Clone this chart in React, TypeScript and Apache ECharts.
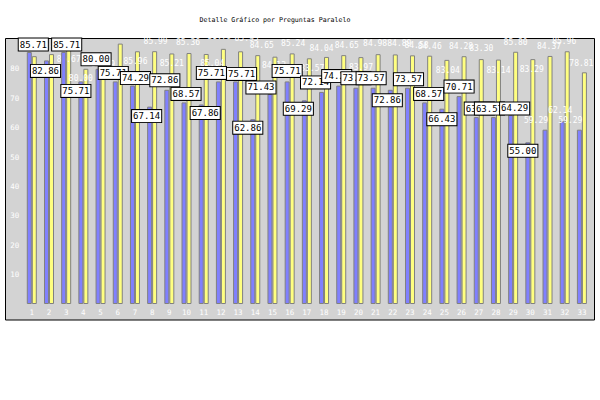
import React, { useEffect, useRef } from "react";
import * as echarts from "echarts";

const categories = ["1","2","3","4","5","6","7","8","9","10","11","12","13","14","15","16","17","18","19","20","21","22","23","24","25","26","27","28","29","30","31","32","33"];

const blueValues = [85.71,82.86,85.71,75.71,80.00,75.71,74.29,67.14,72.86,68.57,67.86,75.71,75.71,62.86,71.43,75.71,69.29,72.14,74.29,73.57,73.57,72.86,73.57,68.57,66.43,70.71,63.57,63.57,64.29,55.00,59.29,62.14,59.29];

const yellowValues = [84.29,85.00,86.67,80.00,84.29,88.57,85.96,85.99,85.21,85.36,85.04,86.79,85.95,84.65,84.13,85.24,83.57,84.04,84.65,83.97,84.98,84.89,84.58,84.46,83.04,84.28,83.30,83.14,85.80,83.29,84.37,85.96,78.81];

const yTickMax = 90;
const yTickStep = 10;

// label placement styling (centre of label relative to bar centre / bar top), pixels
const blueLabelShift = [[4,-8],[-1,10],[3,-8],[-5,9],[-2,-10],[-2,-9],[3,-8],[-3,9],[-2,-10],[2,-9],[4,8],[-7,-9],[6,-8],[-5,8],[-9,-7],[0,-11],[-6,8],[-6,-10],[-2,-10],[0,-10],[-2,-10],[-3,10],[1,-9],[4,-9],[0,10],[0,-10],[3,-9],[-4,-9],[4,-7],[-5,8],[-9,-9],[-2,-10],[-9,-9]];
const yellowLabelShift = [[0,-10],[0,-10],[0,10],[-5,9],[0,8],[0,-10],[-2,10],[1,-10],[0,10],[-1,-11],[6,9],[-4,-13],[6,-13],[4,-10],[-1,8],[1,-10],[3,10],[-5,-9],[3,-10],[0,10],[-3,-11],[4,-11],[4,-10],[0,-10],[1,10],[-3,-10],[0,-11],[0,10],[0,-10],[-1,10],[-1,-10],[-3,-10],[-3,-9]];
const plainBlueLabelFrom = 30;

const MONO = "'DejaVu Sans Mono', 'Liberation Mono', monospace";

export default function App() {
  const ref = useRef<HTMLDivElement>(null);
  useEffect(() => {
    if (!ref.current) return;
    const chart = echarts.init(ref.current, null, { renderer: "svg" });
    const blueData = blueValues.map((v, i) => {
      const [dx, dy] = blueLabelShift[i];
      const plain = i >= plainBlueLabelFrom;
      return {
        value: v,
        label: plain
          ? { offset: [dx, dy + 4.5], backgroundColor: "transparent", borderWidth: 0, color: "#ffffff", fontSize: 8, padding: 0 }
          : { offset: [dx, dy + 6.5] },
      };
    });
    const yellowData = yellowValues.map((v, i) => {
      const [dx, dy] = yellowLabelShift[i];
      return { value: v, label: { offset: [dx, dy + 4.5] } };
    });
    const option: any = {
      animation: false,
      backgroundColor: "#ffffff",
      title: {
        text: "Detalle Gráfico por Preguntas Paralelo",
        left: 270,
        textAlign: "center",
        top: 11,
        textStyle: { fontFamily: MONO, fontSize: 6.6, fontWeight: "normal", color: "#000000" },
      },
      graphic: [
        {
          type: "rect",
          z: -10,
          shape: { x: 5.5, y: 38.5, width: 589, height: 281.5 },
          style: { fill: "#d3d3d3", stroke: "#000000", lineWidth: 1 },
        },
      ],
      grid: { left: 23.2, right: 9.5, top: 39.4, bottom: 96, containLabel: false },
      xAxis: {
        type: "category",
        data: categories,
        axisLine: { show: false },
        axisTick: { show: false },
        axisLabel: { color: "#ffffff", fontFamily: MONO, fontSize: 7.5, margin: 4, interval: 0 },
        splitLine: { show: false },
      },
      yAxis: {
        type: "value",
        min: 0,
        max: yTickMax,
        interval: yTickStep,
        axisLine: { show: false },
        axisTick: { show: false },
        splitLine: { show: false },
        axisLabel: {
          color: "#ffffff",
          fontFamily: MONO,
          fontSize: 7.5,
          showMinLabel: false,
          showMaxLabel: false,
          align: "left",
          margin: 13,
        },
      },
      series: [
        {
          name: "A",
          type: "bar",
          data: blueData,
          barWidth: 5,
          barGap: "0%",
          z: 3,
          itemStyle: { color: "#8080ff", borderColor: "#808080", borderWidth: 1 },
          label: {
            show: true,
            position: "top",
            distance: 0,
            formatter: (p: any) => Number(p.value).toFixed(2),
            color: "#000000",
            fontFamily: MONO,
            fontSize: 9,
            lineHeight: 10,
            backgroundColor: "#ffffff",
            borderColor: "#000000",
            borderWidth: 1,
            padding: [1, 1, 1, 1],
          },
        },
        {
          name: "B",
          type: "bar",
          data: yellowData,
          barWidth: 5,
          barGap: "0%",
          z: 2,
          itemStyle: { color: "#ffff80", borderColor: "#808080", borderWidth: 1 },
          label: {
            show: true,
            position: "top",
            distance: 0,
            formatter: (p: any) => Number(p.value).toFixed(2),
            color: "#ffffff",
            fontFamily: MONO,
            fontSize: 8,
          },
        },
      ],
    };
    chart.setOption(option);
    return () => chart.dispose();
  }, []);
  return <div ref={ref} style={{ width: 600, height: 400, position: "absolute", left: 0, top: 0 }} />;
}
